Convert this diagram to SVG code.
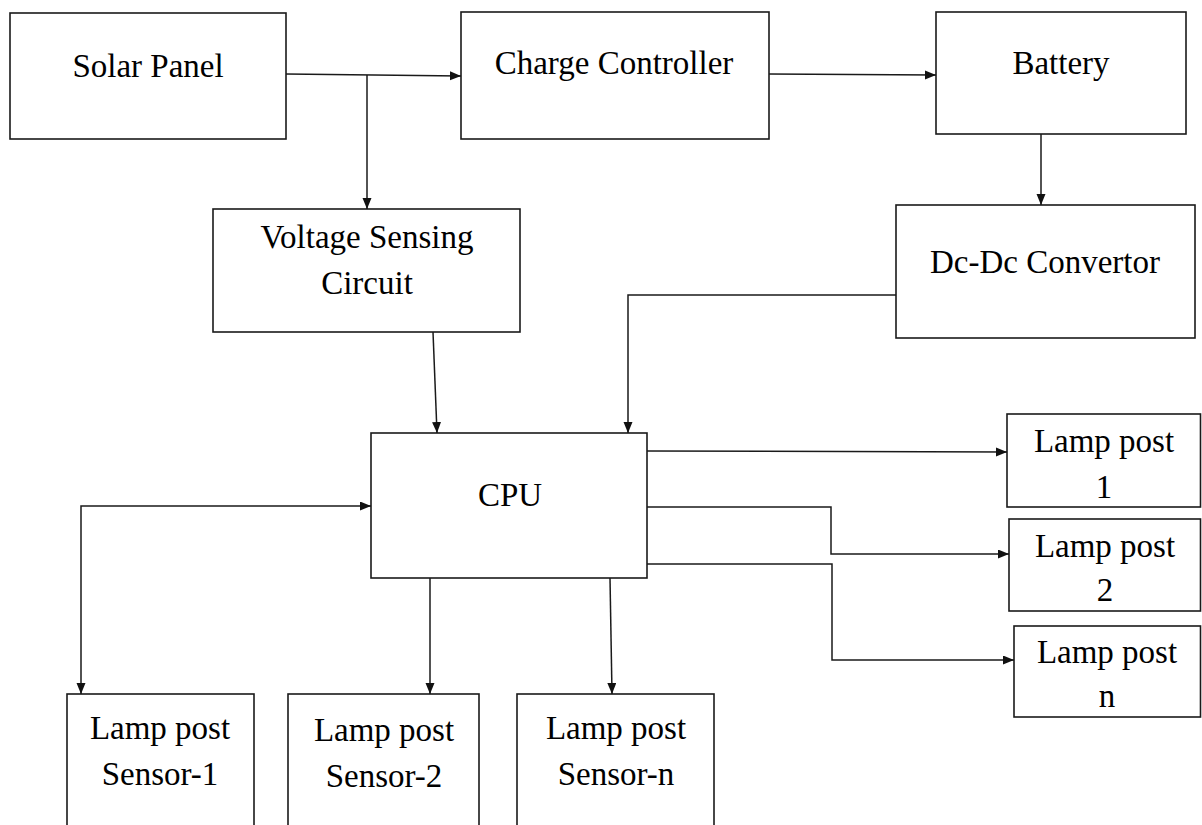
<svg xmlns="http://www.w3.org/2000/svg" width="1202" height="825" viewBox="0 0 1202 825">
<style>
.box{fill:#fff;stroke:#1a1a1a;stroke-width:1.6}
.t{font-family:"Liberation Serif","Times New Roman",serif;font-size:33px;fill:#000;text-anchor:middle}
.c{fill:none;stroke:#1a1a1a;stroke-width:1.5}
</style>
<defs>
<marker id="ah" markerUnits="userSpaceOnUse" markerWidth="12" markerHeight="10" refX="11" refY="4.5" orient="auto-start-reverse">
<path d="M0,0 L11,4.5 L0,9 z" fill="#111"/>
</marker>
</defs>
<rect width="1202" height="825" fill="#fff"/>
<g id="solar"><rect class="box" x="10" y="13" width="276" height="126"/><text class="t" x="148" y="77">Solar Panel</text></g>
<g id="charge"><rect class="box" x="461" y="12" width="308" height="127"/><text class="t" x="614" y="74">Charge Controller</text></g>
<g id="battery"><rect class="box" x="936" y="12" width="250" height="122"/><text class="t" x="1061" y="74">Battery</text></g>
<g id="voltage"><rect class="box" x="213" y="209" width="307" height="123"/><text class="t" x="367" y="248">Voltage Sensing</text><text class="t" x="367" y="294">Circuit</text></g>
<g id="dcdc"><rect class="box" x="896" y="205" width="299" height="133"/><text class="t" x="1045" y="273">Dc-Dc Convertor</text></g>
<g id="cpu"><rect class="box" x="371" y="433" width="276" height="145"/><text class="t" x="510" y="506">CPU</text></g>
<g id="lamp1"><rect class="box" x="1007" y="414" width="193.5" height="93"/><text class="t" x="1104" y="452">Lamp post</text><text class="t" x="1104" y="498">1</text></g>
<g id="lamp2"><rect class="box" x="1009" y="519" width="191.5" height="92"/><text class="t" x="1105" y="557">Lamp post</text><text class="t" x="1105" y="601">2</text></g>
<g id="lampn"><rect class="box" x="1014" y="626" width="186.5" height="91"/><text class="t" x="1107" y="663">Lamp post</text><text class="t" x="1107" y="707">n</text></g>
<g id="sensor1"><rect class="box" x="67" y="694" width="187" height="160"/><text class="t" x="160" y="739">Lamp post</text><text class="t" x="160" y="785">Sensor-1</text></g>
<g id="sensor2"><rect class="box" x="288" y="694" width="191" height="160"/><text class="t" x="384" y="741">Lamp post</text><text class="t" x="384" y="787">Sensor-2</text></g>
<g id="sensorn"><rect class="box" x="517" y="694" width="197" height="160"/><text class="t" x="616" y="739">Lamp post</text><text class="t" x="616" y="785">Sensor-n</text></g>
<g id="connectors">
<path class="c" d="M286,74 L461,76" marker-end="url(#ah)"/>
<path class="c" d="M367,75 L367,209" marker-end="url(#ah)"/>
<path class="c" d="M769,74 L936,75" marker-end="url(#ah)"/>
<path class="c" d="M1041,134 L1041,205" marker-end="url(#ah)"/>
<path class="c" d="M896,295 L628,295 L628,433" marker-end="url(#ah)"/>
<path class="c" d="M433,332 L437,433" marker-end="url(#ah)"/>
<path class="c" d="M371,506 L81,506 L81,694" marker-start="url(#ah)" marker-end="url(#ah)"/>
<path class="c" d="M430,578 L430,694" marker-end="url(#ah)"/>
<path class="c" d="M610,578 L612,694" marker-end="url(#ah)"/>
<path class="c" d="M647,451 L1007,452" marker-end="url(#ah)"/>
<path class="c" d="M647,507 L831,507 L831,554 L1009,554" marker-end="url(#ah)"/>
<path class="c" d="M647,564 L832,564 L832,660 L1014,660" marker-end="url(#ah)"/>
</g>
</svg>
